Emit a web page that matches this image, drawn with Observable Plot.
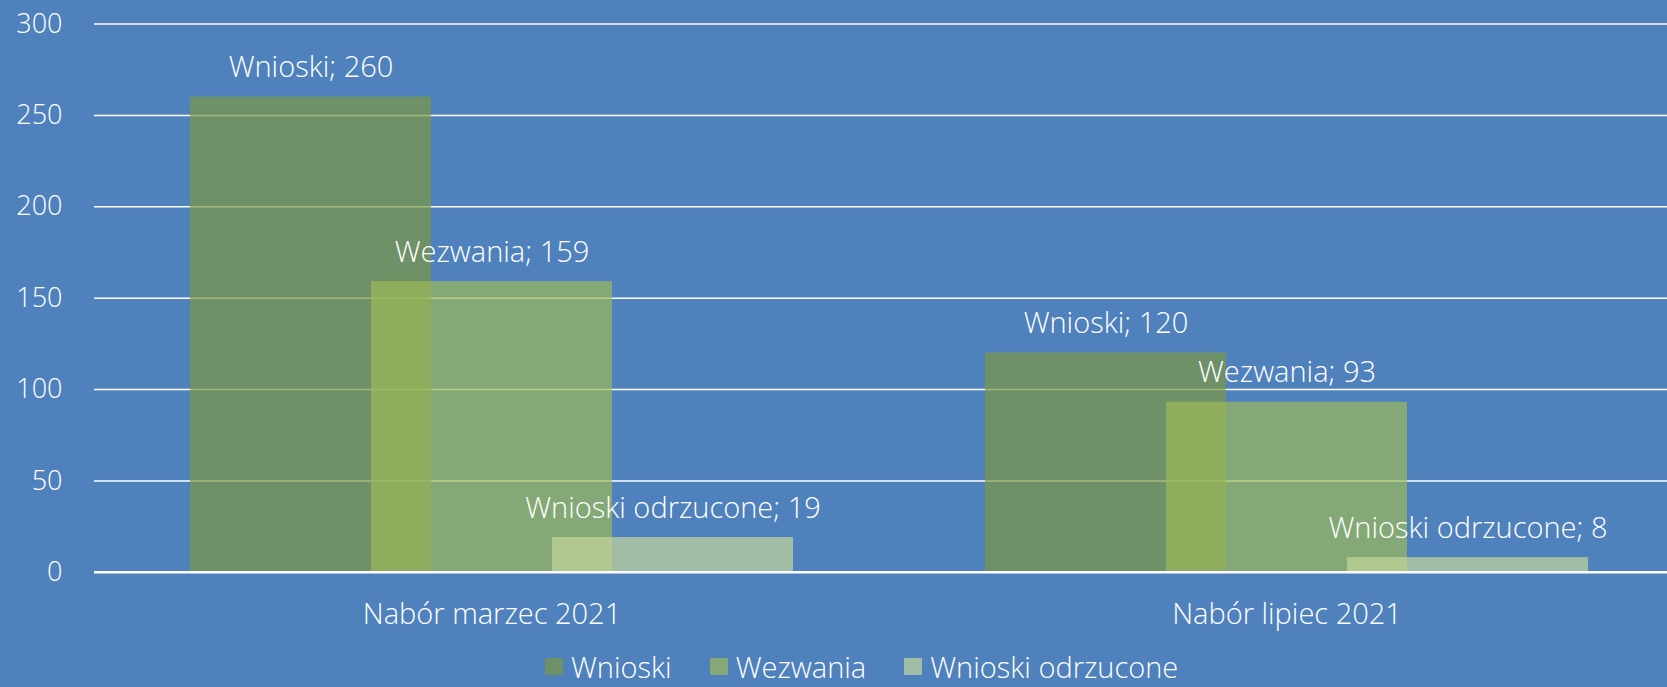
<!DOCTYPE html>
<html>
<head>
<meta charset="utf-8">
<script src="https://cdn.jsdelivr.net/npm/d3@7"></script>
<script src="https://cdn.jsdelivr.net/npm/@observablehq/plot@0.6"></script>
<style>
  html, body { margin: 0; padding: 0; background: #4F81BD; width: 1667px; height: 687px; overflow: hidden; }
  #chart { position: relative; width: 1667px; height: 687px; }
  #chart svg { position: absolute; left: 0; top: 0; }
  .legend { position: absolute; left: 545px; top: 652px; display: flex; align-items: center;
            font-family: "Open Sans", Lato, sans-serif; font-weight: 300; font-size: 29px; line-height: 29px; color: white; }
  .legend .item { display: flex; align-items: center; margin-right: 38px; }
  .legend .sw { width: 18px; height: 17px; margin-right: 8px; }
  .legend span { display: inline-block; line-height: 29px; height: 29px; }
</style>
</head>
<body>
<div id="chart"></div>
<script>
const groups = ["Nabór marzec 2021", "Nabór lipiec 2021"];
const series = ["Wnioski", "Wezwania", "Wnioski odrzucone"];
const wnioski = [260, 120];
const wezwania = [159, 93];
const odrzucone = [19, 8];
const yTicks = [0, 50, 100, 150, 200, 250, 300];
const colors = ["#7D9845", "#9BBB59", "#C4D79B"];

const valuesBySeries = [wnioski, wezwania, odrzucone];
const rows = [];
series.forEach((s, si) => groups.forEach((g, gi) => rows.push({group: g, series: s, value: valuesBySeries[si][gi]})));

const chart = Plot.plot({
  width: 1667,
  height: 645,
  marginLeft: 94,
  marginRight: -17,
  marginTop: 23.5,
  marginBottom: 73.25,
  style: {background: "transparent", color: "white", fontFamily: "'Open Sans', Lato, sans-serif", fontSize: "27px", fontWeight: 300},
  fx: {domain: groups, padding: 0, axis: "bottom", tickSize: 0, tickPadding: 31, label: null, fontSize: 29},
  x: {domain: series, paddingInner: 0, paddingOuter: 0.696, axis: null},
  y: {domain: [0, 300], ticks: yTicks, tickSize: 0, tickPadding: 32, label: null},
  color: {domain: series, range: colors},
  marks: [
    Plot.ruleY(yTicks.filter(d => d > 0), {stroke: "white", strokeWidth: 1.5}),
    Plot.barY(rows, {fx: "group", x: "series", y: "value", fill: "series", fillOpacity: 0.7, insetLeft: -30, insetRight: -30}),
    Plot.ruleY([0], {stroke: "white", strokeWidth: 2.5}),
    Plot.text(rows, {fx: "group", x: "series", y: "value", text: d => `${d.series}; ${d.value}`,
      lineAnchor: "bottom", dy: -20, fill: "white", fontSize: 29, fontWeight: 300})
  ]
});
const root = document.getElementById("chart");
root.appendChild(chart);
// enlarge the group (fx) axis labels to match the reference
chart.querySelectorAll("g[aria-label='fx-axis'] text, g[aria-label='fx-axis tick label'] text").forEach(t => t.style.fontSize = "29px");

const legend = document.createElement("div");
legend.className = "legend";
series.forEach((s, i) => {
  const item = document.createElement("div");
  item.className = "item";
  const sw = document.createElement("div");
  sw.className = "sw";
  sw.style.background = colors[i];
  sw.style.opacity = 0.7;
  const t = document.createElement("span");
  t.textContent = s;
  item.appendChild(sw);
  item.appendChild(t);
  legend.appendChild(item);
});
root.appendChild(legend);
</script>
</body>
</html>
